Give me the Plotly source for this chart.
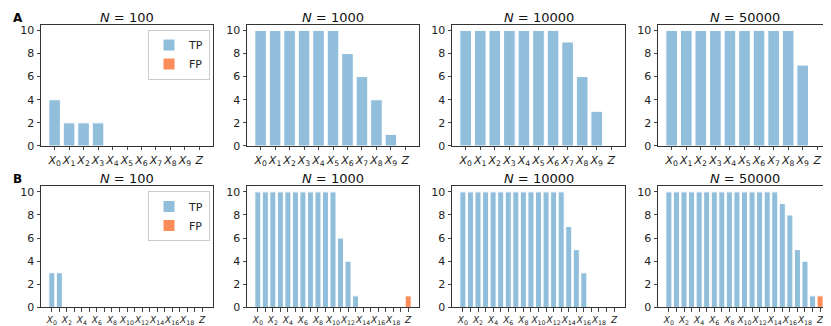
import plotly.graph_objects as go

W, H = 831, 326

sample_sizes = ["100", "1000", "10000", "50000"]

# row A: 10 variables + Z
cats_a = ["X0", "X1", "X2", "X3", "X4", "X5", "X6", "X7", "X8", "X9", "Z"]
tp_a_100 = [4, 2, 2, 2, 0, 0, 0, 0, 0, 0, 0]
tp_a_1000 = [10, 10, 10, 10, 10, 10, 8, 6, 4, 1, 0]
tp_a_10000 = [10, 10, 10, 10, 10, 10, 10, 9, 6, 3, 0]
tp_a_50000 = [10, 10, 10, 10, 10, 10, 10, 10, 10, 7, 0]
fp_a = [0, 0, 0, 0]

# row B: 20 variables + Z
cats_b = ["X0", "X1", "X2", "X3", "X4", "X5", "X6", "X7", "X8", "X9", "X10",
          "X11", "X12", "X13", "X14", "X15", "X16", "X17", "X18", "X19", "Z"]
tp_b_100 = [3, 3, 0, 0, 0, 0, 0, 0, 0, 0, 0, 0, 0, 0, 0, 0, 0, 0, 0, 0, 0]
tp_b_1000 = [10, 10, 10, 10, 10, 10, 10, 10, 10, 10, 10, 6, 4, 1, 0, 0, 0, 0, 0, 0, 0]
tp_b_10000 = [10, 10, 10, 10, 10, 10, 10, 10, 10, 10, 10, 10, 10, 10, 7, 5, 3, 0, 0, 0, 0]
tp_b_50000 = [10, 10, 10, 10, 10, 10, 10, 10, 10, 10, 10, 10, 10, 10, 10, 9, 8, 5, 4, 1, 0]
fp_b = [0, 1, 0, 1]

TP_COLOR = "#91bfdb"
FP_COLOR = "#fc8d59"
FONT = "DejaVu Sans"


def fmt(c):
    if c == "Z":
        return "<i>Z</i>"
    return "<i>X</i><sub>%s</sub>" % c[1:]


rows = [
    (cats_a, [tp_a_100, tp_a_1000, tp_a_10000, tp_a_50000], fp_a, 17, 141, 1, 11),
    (cats_b, [tp_b_100, tp_b_1000, tp_b_10000, tp_b_50000], fp_b, 182, 306, 2, 9),
]
col_px = [(33, 205), (239, 411), (444, 617), (650, 823)]

fig = go.Figure()
layout = {}
annotations = []

k = 0
for cats, tps, fps, top, bot, r, tfs in rows:
    n = len(cats)
    pos = list(range(n))
    if n > 11:
        ticktext = [fmt(c) if (i % 2 == 0 or c == "Z") else "" for i, c in enumerate(cats)]
    else:
        ticktext = [fmt(c) for c in cats]
    leg = "legend" if r == 1 else "legend2"
    for j in range(4):
        k += 1
        xa = "x" if k == 1 else "x%d" % k
        ya = "y" if k == 1 else "y%d" % k
        first = j == 0
        fig.add_trace(go.Bar(x=pos, y=tps[j], width=0.8, marker_color=TP_COLOR,
                             marker_line=dict(color="white", width=1),
                             name="TP", showlegend=first, legend=leg,
                             xaxis=xa, yaxis=ya))
        fig.add_trace(go.Bar(x=[n - 1], y=[fps[j]], width=0.8, marker_color=FP_COLOR,
                             marker_line=dict(color="white", width=1),
                             name="FP", showlegend=first, legend=leg,
                             xaxis=xa, yaxis=ya))
        x0, x1 = col_px[j]
        pad = (n - 1 + 0.8) * 0.05
        layout["xaxis" if k == 1 else "xaxis%d" % k] = dict(
            domain=[x0 / W, x1 / W], anchor=ya, range=[-0.4 - pad, n - 1 + 0.4 + pad],
            tickvals=pos, ticktext=ticktext, tickangle=0, ticks="outside", ticklen=3.5,
            tickfont=dict(size=tfs, color="#222"), showline=True, mirror=True,
            linecolor="#333", linewidth=1, showgrid=False, zeroline=False)
        layout["yaxis" if k == 1 else "yaxis%d" % k] = dict(
            domain=[1 - bot / H, 1 - top / H], anchor=xa, range=[0, 10.5],
            tickvals=[0, 2, 4, 6, 8, 10], ticks="outside", ticklen=3.5,
            tickfont=dict(size=11, color="#222"), showline=True, mirror=True,
            linecolor="#333", linewidth=1, showgrid=False, zeroline=False)
        annotations.append(dict(text="<i>N</i> = %s" % sample_sizes[j], xref="paper", yref="paper",
                                x=(x0 + x1) / 2 / W, y=1 - top / H, xanchor="center", yanchor="bottom",
                                yshift=-2, showarrow=False, font=dict(size=13, color="#111")))
    annotations.append(dict(text="<b>%s</b>" % ("A" if r == 1 else "B"), xref="paper", yref="paper",
                            x=3 / W, y=1 - (top - 16) / H, xanchor="left", yanchor="top",
                            showarrow=False, font=dict(size=12, color="#000")))

legend_style = dict(xanchor="right", yanchor="top", bgcolor="white", bordercolor="#ccc",
                    borderwidth=1, font=dict(size=11, color="#222"), itemwidth=30,
                    tracegroupgap=0)
layout["legend"] = dict(x=202 / W, y=1 - 22 / H, **legend_style)
layout["legend2"] = dict(x=202 / W, y=1 - 187 / H, **legend_style)

fig.update_layout(**layout)
fig.update_layout(width=W, height=H, margin=dict(l=0, r=0, t=0, b=0),
                  plot_bgcolor="white", paper_bgcolor="white", barmode="overlay",
                  font=dict(family=FONT, color="#222"), annotations=annotations)

fig.write_html("out.html")
